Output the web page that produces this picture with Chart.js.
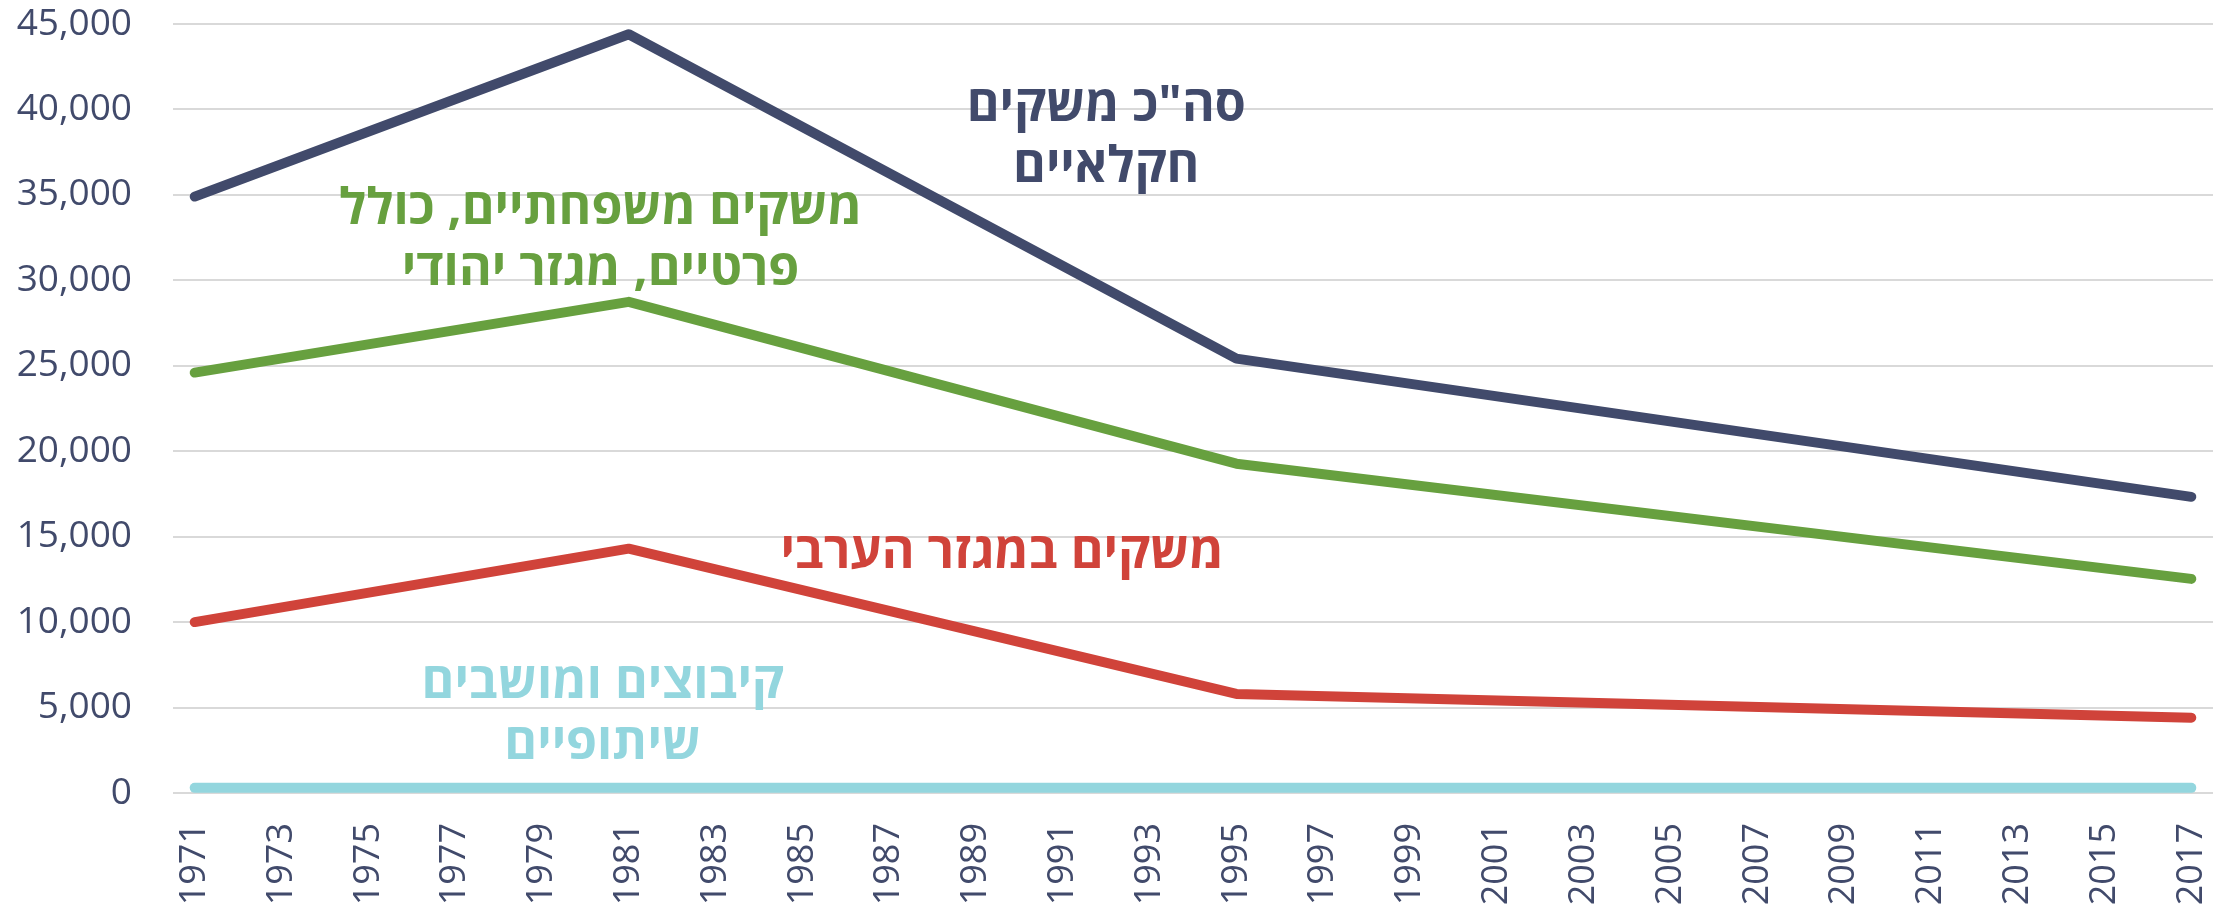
<!DOCTYPE html>
<html>
<head>
<meta charset="utf-8">
<script src="https://cdn.jsdelivr.net/npm/chart.js@4/dist/chart.umd.min.js"></script>
<style>
    body { margin: 0; background: #ffffff; }
    #wrap { width: 2215px; height: 907px; }
</style>
</head>
<body>
<div id="wrap"><canvas id="chart-farms" width="2215" height="907"></canvas></div>
<script>
// Data
var firstYear = 1971;
var lastYear = 2017;
var years = [1971, 1981, 1995, 2017];

var totalFarms = [34900, 44400, 25420, 17330];        // סה"כ משקים חקלאיים
var familyFarms = [24600, 28740, 19270, 12530];       // משקים משפחתיים, כולל פרטיים, מגזר יהודי
var arabFarms = [10000, 14300, 5800, 4410];           // משקים במגזר הערבי
var kibbutzFarms = [300, 300, 300, 300];              // קיבוצים ומושבים שיתופיים

var yTicks = [0, 5000, 10000, 15000, 20000, 25000, 30000, 35000, 40000, 45000];

var seriesNames = [
    ['סה"כ משקים', 'חקלאיים'],
    ['משקים משפחתיים, כולל', 'פרטיים, מגזר יהודי'],
    ['משקים במגזר הערבי'],
    ['קיבוצים ומושבים', 'שיתופיים']
];
// label anchors in chart units (year, value)
var labelYears = [1992, 1980.35, 1989.6, 1980.4];
var labelValues = [38400, 32320, 14010, 4610];

var colors = ['#414A6B', '#67A03F', '#D0433A', '#93D6DE'];

// Etiquetas del eje x (todos los años)
var labels = [];
for (var y = firstYear; y <= lastYear; y++) {
    labels.push(String(y));
}

function toPoints(values) {
    return values.map(function (v, i) {
        return { x: String(years[i]), y: v };
    });
}

// Dibuja los textos de las series dentro del gráfico
var seriesLabelsPlugin = {
    id: 'seriesLabels',
    afterDatasetsDraw: function (chart) {
        var ctx = chart.ctx;
        var xs = chart.scales.x;
        var ys = chart.scales.y;
        var step = xs.getPixelForValue(1) - xs.getPixelForValue(0);
        ctx.save();
        ctx.direction = 'rtl';
        ctx.textAlign = 'center';
        ctx.textBaseline = 'middle';
        ctx.font = 'bold 50px "Open Sans", "DejaVu Sans", sans-serif';
        seriesNames.forEach(function (lines, i) {
            var px = xs.getPixelForValue(0) + (labelYears[i] - firstYear) * step;
            var py = ys.getPixelForValue(labelValues[i]);
            var lh = 61;
            var start = py - (lines.length - 1) * lh / 2;
            ctx.fillStyle = colors[i];
            lines.forEach(function (t, j) {
                ctx.fillText(t, px, start + j * lh);
            });
        });
        ctx.restore();
    }
};

var ctx = document.getElementById('chart-farms').getContext('2d');
var lineStyle = function (label, values, color) {
    return {
        label: label,
        data: toPoints(values),
        borderColor: color,
        backgroundColor: color,
        borderWidth: 10,
        borderCapStyle: 'round',
        borderJoinStyle: 'round',
        pointRadius: 0,
        tension: 0,
        fill: false
    };
};

new Chart(ctx, {
    type: 'line',
    data: {
        labels: labels,
        datasets: [
            lineStyle('kibbutz', kibbutzFarms, colors[3]),
            lineStyle('arab', arabFarms, colors[2]),
            lineStyle('family', familyFarms, colors[1]),
            lineStyle('total', totalFarms, colors[0])
        ]
    },
    options: {
        responsive: false,
        animation: false,
        layout: {
            padding: { top: 24, right: 2, left: 15, bottom: 0 }
        },
        scales: {
            x: {
                type: 'category',
                offset: true,
                grid: { display: false, drawTicks: false },
                border: { display: false },
                afterFit: function (axis) {
                    axis.height = 114;
                    axis.paddingLeft = 0;
                    axis.paddingRight = 0;
                },
                ticks: {
                    autoSkip: false,
                    maxRotation: 90,
                    minRotation: 90,
                    padding: 30,
                    color: '#414A6B',
                    font: { family: '"Open Sans", "DejaVu Sans", sans-serif', size: 36 },
                    callback: function (value, index) {
                        return index % 2 === 0 ? labels[index] : '';
                    }
                }
            },
            y: {
                min: 0,
                max: 45000,
                afterBuildTicks: function (axis) {
                    axis.ticks = yTicks.map(function (v) { return { value: v }; });
                },
                afterFit: function (axis) {
                    axis.width = 158;
                    axis.paddingTop = 0;
                    axis.paddingBottom = 0;
                },
                grid: { color: '#D9D9D9', lineWidth: 2, drawTicks: false },
                border: { display: false },
                ticks: {
                    padding: 41,
                    color: '#414A6B',
                    font: { family: '"Open Sans", "DejaVu Sans", sans-serif', size: 37 },
                    callback: function (value) {
                        return value.toLocaleString('en-US');
                    }
                }
            }
        },
        plugins: {
            legend: { display: false },
            tooltip: { enabled: false }
        }
    },
    plugins: [seriesLabelsPlugin]
});
</script>
</body>
</html>
